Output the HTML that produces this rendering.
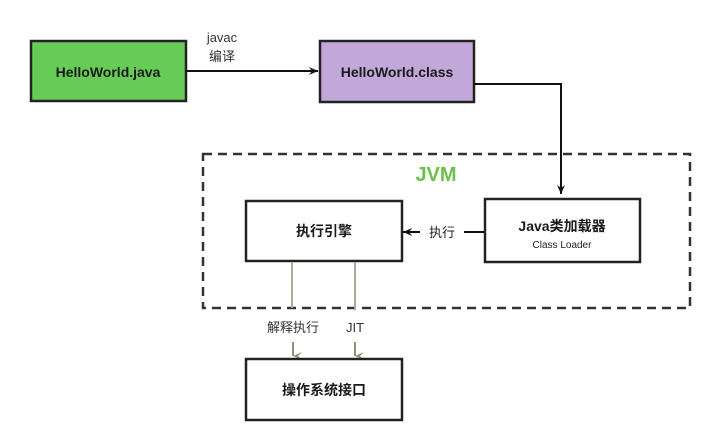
<!DOCTYPE html>
<html><head><meta charset="utf-8"><style>
html,body{margin:0;padding:0;background:#fff;}
</style></head><body>
<svg width="713" height="435" viewBox="0 0 713 435" xmlns="http://www.w3.org/2000/svg" font-family="Liberation Sans, Noto Sans CJK SC, sans-serif">
<defs>
<marker id="a" markerWidth="10" markerHeight="10" refX="9" refY="5" orient="auto" markerUnits="userSpaceOnUse"><path d="M0,1 L9,5 L0,9 L3,5 Z" fill="#111"/></marker>
<marker id="g" markerWidth="10" markerHeight="10" refX="5" refY="9" orient="auto" markerUnits="userSpaceOnUse"><path d="M1,0 L5,9 L9,0 L5,4 Z" fill="#8a9478"/></marker>
</defs>
<rect x="31" y="41" width="155" height="60" fill="#66cc55" stroke="#222" stroke-width="2.5"/>
<text x="108" y="77" text-anchor="middle" font-size="14" font-weight="bold" fill="#1a1a1a">HelloWorld.java</text>
<rect x="320" y="41" width="154" height="61" fill="#c2a8d8" stroke="#222" stroke-width="2.5"/>
<text x="397" y="77" text-anchor="middle" font-size="14" font-weight="bold" fill="#1a1a1a">HelloWorld.class</text>
<text x="222" y="42" text-anchor="middle" font-size="13" fill="#333">javac</text>
<text x="222" y="61" text-anchor="middle" font-size="13" fill="#333">编译</text>
<line x1="186" y1="71" x2="318" y2="71" stroke="#111" stroke-width="2" marker-end="url(#a)"/>
<polyline points="474,84 561,84 561,194" fill="none" stroke="#111" stroke-width="2" marker-end="url(#a)"/>
<rect x="203" y="154" width="487" height="154" fill="none" stroke="#333" stroke-width="2.5" stroke-dasharray="9,6"/>
<text x="436" y="181" text-anchor="middle" font-size="20" font-weight="bold" fill="#6ac048">JVM</text>
<rect x="246" y="201" width="156" height="60" fill="#fff" stroke="#222" stroke-width="2.5"/>
<text x="324" y="236" text-anchor="middle" font-size="14" font-weight="bold" fill="#1a1a1a">执行引擎</text>
<rect x="485" y="199" width="155" height="63" fill="#fff" stroke="#222" stroke-width="2.5"/>
<text x="562" y="231" text-anchor="middle" font-size="14" font-weight="bold" fill="#1a1a1a">Java类加载器</text>
<text x="562" y="248" text-anchor="middle" font-size="10" fill="#222">Class Loader</text>
<line x1="484" y1="232" x2="464" y2="232" stroke="#111" stroke-width="2"/>
<line x1="420" y1="232" x2="403" y2="232" stroke="#111" stroke-width="2" marker-end="url(#a)"/>
<text x="442" y="237" text-anchor="middle" font-size="13" fill="#222">执行</text>
<line x1="292" y1="262" x2="292" y2="308" stroke="#a8ad9c" stroke-width="2"/>
<line x1="355" y1="262" x2="355" y2="310" stroke="#a8ad9c" stroke-width="2"/>
<text x="293" y="332" text-anchor="middle" font-size="13" fill="#333">解释执行</text>
<text x="355" y="332" text-anchor="middle" font-size="13" fill="#333">JIT</text>
<line x1="293" y1="342" x2="293" y2="356" stroke="#8a9478" stroke-width="2" marker-end="url(#g)"/>
<line x1="355" y1="342" x2="355" y2="356" stroke="#8a9478" stroke-width="2" marker-end="url(#g)"/>
<rect x="246" y="359" width="156" height="61" fill="#fff" stroke="#222" stroke-width="2.5"/>
<text x="324" y="395" text-anchor="middle" font-size="14" font-weight="bold" fill="#1a1a1a">操作系统接口</text>
</svg>
</body></html>
